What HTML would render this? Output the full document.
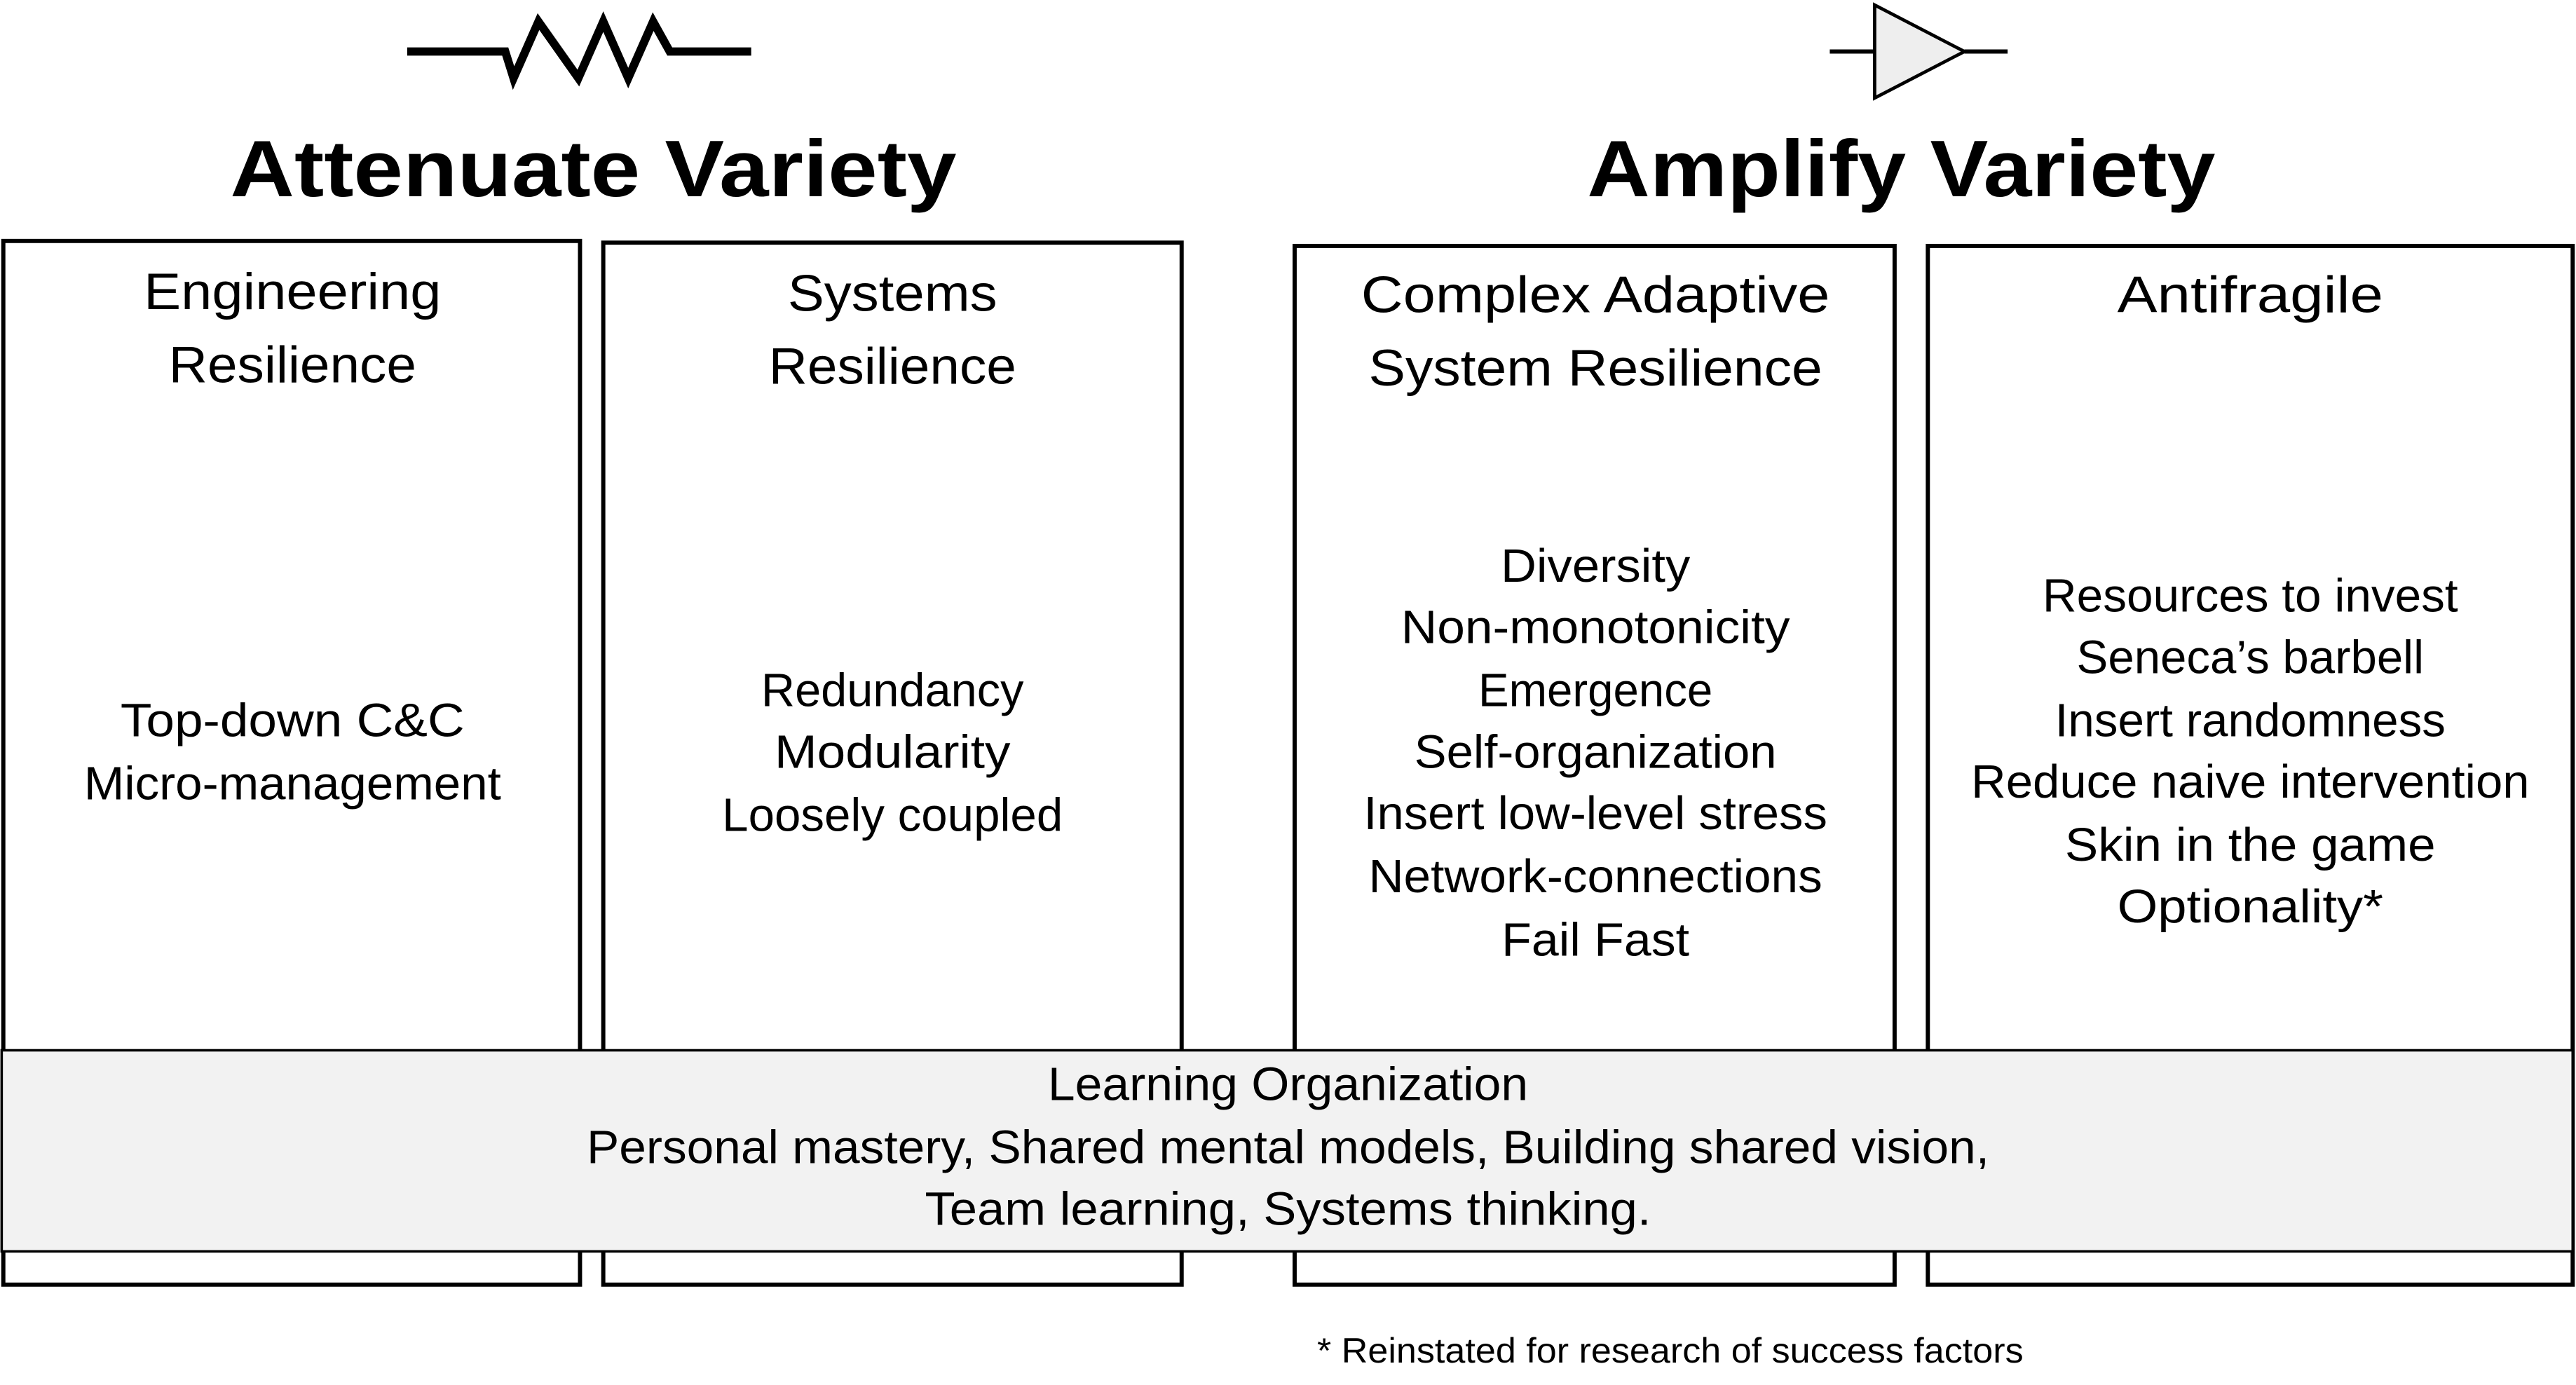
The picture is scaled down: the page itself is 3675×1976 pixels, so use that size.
<!DOCTYPE html>
<html><head><meta charset="utf-8"><style>
html,body{margin:0;padding:0;background:#fff;}
svg{display:block;}
text{font-family:"Liberation Sans",sans-serif;fill:#000;}
</style></head><body>
<svg width="3675" height="1976" viewBox="0 0 1550 833.4" preserveAspectRatio="none" xmlns="http://www.w3.org/2000/svg">
<!-- resistor -->
<polyline points="245,31 304,31 309,47 324,13 348,47 363,13 378,47 393,13 403,31 452,31" fill="none" stroke="#000" stroke-width="5"/>
<!-- amplifier -->
<line x1="1101" y1="31" x2="1128" y2="31" stroke="#000" stroke-width="2.5"/>
<line x1="1182" y1="31" x2="1208" y2="31" stroke="#000" stroke-width="2.5"/>
<polygon points="1128,3 1128,59 1182,31" fill="#eeeeee" stroke="#000" stroke-width="2"/>
<!-- titles -->
<text x="357" y="118" font-size="48" font-weight="bold" text-anchor="middle" textLength="437" lengthAdjust="spacingAndGlyphs">Attenuate Variety</text>
<text x="1144" y="118" font-size="48" font-weight="bold" text-anchor="middle" textLength="378" lengthAdjust="spacingAndGlyphs">Amplify Variety</text>
<!-- boxes -->
<g fill="#fff" stroke="#000" stroke-width="2.5">
<rect x="2" y="145" width="347" height="628"/>
<rect x="363" y="146" width="348" height="627"/>
<rect x="779" y="148" width="361" height="625"/>
<rect x="1160" y="148" width="388" height="625"/>
</g>
<rect x="1" y="632" width="1547" height="121" fill="#f2f2f2" stroke="#000" stroke-width="1.5"/>
<g font-size="31" text-anchor="middle" lengthAdjust="spacingAndGlyphs">
<text x="176" y="186" textLength="179" lengthAdjust="spacingAndGlyphs">Engineering</text>
<text x="176" y="230" textLength="149" lengthAdjust="spacingAndGlyphs">Resilience</text>
<text x="537" y="187" textLength="126" lengthAdjust="spacingAndGlyphs">Systems</text>
<text x="537" y="231" textLength="149" lengthAdjust="spacingAndGlyphs">Resilience</text>
<text x="960" y="188" textLength="282" lengthAdjust="spacingAndGlyphs">Complex Adaptive</text>
<text x="960" y="232" textLength="273" lengthAdjust="spacingAndGlyphs">System Resilience</text>
<text x="1354" y="188" textLength="160" lengthAdjust="spacingAndGlyphs">Antifragile</text>
</g>
<g font-size="28" text-anchor="middle">
<text x="176" y="443" textLength="207" lengthAdjust="spacingAndGlyphs">Top-down C&amp;C</text>
<text x="176" y="481" textLength="251" lengthAdjust="spacingAndGlyphs">Micro-management</text>
<text x="537" y="425" textLength="158" lengthAdjust="spacingAndGlyphs">Redundancy</text>
<text x="537" y="462" textLength="142" lengthAdjust="spacingAndGlyphs">Modularity</text>
<text x="537" y="500" textLength="205" lengthAdjust="spacingAndGlyphs">Loosely coupled</text>
<text x="960" y="350" textLength="114" lengthAdjust="spacingAndGlyphs">Diversity</text>
<text x="960" y="387" textLength="234" lengthAdjust="spacingAndGlyphs">Non-monotonicity</text>
<text x="960" y="425" textLength="141" lengthAdjust="spacingAndGlyphs">Emergence</text>
<text x="960" y="462" textLength="218" lengthAdjust="spacingAndGlyphs">Self-organization</text>
<text x="960" y="499" textLength="279" lengthAdjust="spacingAndGlyphs">Insert low-level stress</text>
<text x="960" y="537" textLength="273" lengthAdjust="spacingAndGlyphs">Network-connections</text>
<text x="960" y="575" textLength="113" lengthAdjust="spacingAndGlyphs">Fail Fast</text>
<text x="1354" y="368" textLength="250" lengthAdjust="spacingAndGlyphs">Resources to invest</text>
<text x="1354" y="405" textLength="209" lengthAdjust="spacingAndGlyphs">Seneca’s barbell</text>
<text x="1354" y="443" textLength="235" lengthAdjust="spacingAndGlyphs">Insert randomness</text>
<text x="1354" y="480" textLength="336" lengthAdjust="spacingAndGlyphs">Reduce naive intervention</text>
<text x="1354" y="518" textLength="223" lengthAdjust="spacingAndGlyphs">Skin in the game</text>
<text x="1354" y="555" textLength="160" lengthAdjust="spacingAndGlyphs">Optionality*</text>
<text x="775" y="662" textLength="289" lengthAdjust="spacingAndGlyphs">Learning Organization</text>
<text x="775" y="700" textLength="844" lengthAdjust="spacingAndGlyphs">Personal mastery, Shared mental models, Building shared vision,</text>
<text x="775" y="737" textLength="437" lengthAdjust="spacingAndGlyphs">Team learning, Systems thinking.</text>
</g>
<text x="1005" y="820" font-size="21" text-anchor="middle" textLength="425" lengthAdjust="spacingAndGlyphs">* Reinstated for research of success factors</text>
</svg>
</body></html>
